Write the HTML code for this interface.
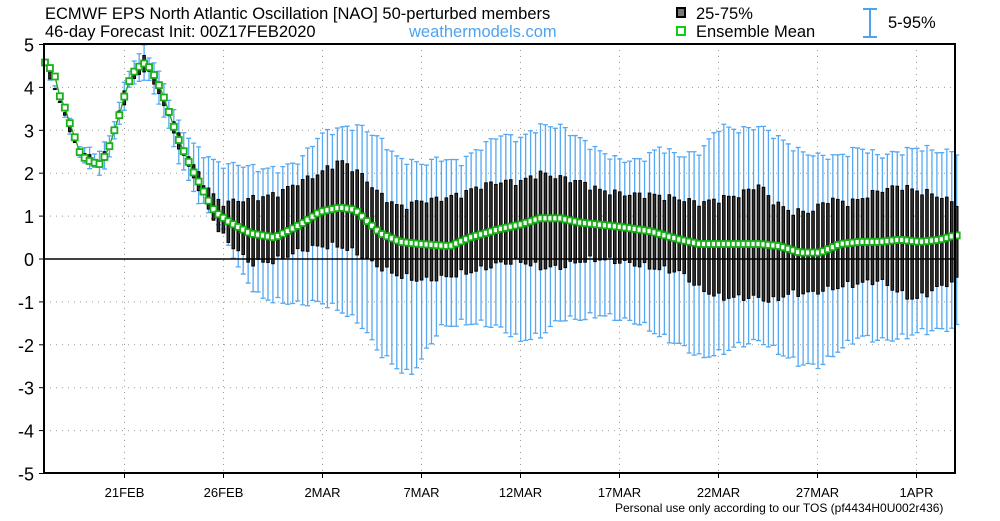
<!DOCTYPE html>
<html><head><meta charset="utf-8"><style>
body{margin:0;background:#fff;width:1000px;height:516px;overflow:hidden;font-family:"Liberation Sans",sans-serif}
</style></head><body>
<svg id="s" width="1000" height="516" xmlns="http://www.w3.org/2000/svg" font-family="Liberation Sans, sans-serif">
<text x="45" y="19" font-size="16.5">ECMWF EPS North Atlantic Oscillation [NAO]  50-perturbed members</text>
<text x="45" y="37" font-size="16.5">46-day Forecast Init: 00Z17FEB2020</text>
<text x="409" y="37" font-size="16.5" fill="#4ea3f0">weathermodels.com</text>
<rect x="677" y="8" width="8" height="9" fill="#777" stroke="#000" stroke-width="2"/>
<text x="696" y="19" font-size="16.5">25-75%</text>
<rect x="677" y="27" width="8" height="8" fill="#fff" stroke="#1c1" stroke-width="2"/>
<text x="696" y="37" font-size="16.5">Ensemble Mean</text>
<path d="M863 9H877M870 9V37M863 37H877" stroke="#4ea3f0" stroke-width="2" fill="none"/>
<text x="888" y="28" font-size="16.5">5-95%</text>
<text x="615" y="512" font-size="12">Personal use only according to our TOS (pf4434H0U002r436)</text>
<g id="g"></g>
</svg>
<script>
const g=document.getElementById('g');let h='';
const Y=v=>259-42.9*v;
const L=44,R=955,T=44,B=473;
for(let v=-4;v<=4;v++){if(v)h+=`<line x1="${L}" x2="${R}" y1="${Y(v)}" y2="${Y(v)}" stroke="#999" stroke-dasharray="1,5"/>`;}
const xl=['21FEB','26FEB','2MAR','7MAR','12MAR','17MAR','22MAR','27MAR','1APR'];
xl.forEach((t,i)=>{const x=124.5+i*99;h+=`<line x1="${x}" x2="${x}" y1="${T}" y2="${B}" stroke="#999" stroke-dasharray="1,5"/><text x="${x}" y="497" font-size="13" text-anchor="middle">${t}</text><line x1="${x}" x2="${x}" y1="${B}" y2="${B+5}" stroke="#000"/>`;});
for(let v=-5;v<=5;v++){h+=`<text x="34" y="${Y(v)+7}" font-size="18" text-anchor="end">${v}</text><line x1="${L-5}" x2="${L}" y1="${Y(v)}" y2="${Y(v)}" stroke="#000"/>`;}
function P(s){const a=s.trim().split(/\s+/).map(p=>p.split(':').map(Number));return x=>{if(x<=a[0][0])return a[0][1];for(let i=1;i<a.length;i++)if(x<=a[i][0]){const[x0,y0]=a[i-1],[x1,y1]=a[i];return y0+(y1-y0)*(x-x0)/(x1-x0);}return a[a.length-1][1];};}
const M=P("45:4.58 50:4.45 55:4.25 60:3.78 65:3.52 70:3.15 75:2.82 80:2.47 85:2.35 90:2.28 95:2.24 100:2.21 105:2.4 110:2.66 115:3.05 120:3.4 125:3.85 130:4.2 135:4.4 140:4.5 145:4.57 150:4.45 155:4.25 160:4.0 165:3.7 170:3.35 175:3.0 180:2.7 185:2.45 190:2.2 195:1.95 200:1.75 205:1.5 210:1.3 215:1.1 230:0.85 250:0.6 275:0.5 300:0.8 320:1.1 340:1.2 355:1.15 380:0.6 400:0.4 420:0.35 450:0.3 470:0.5 500:0.7 520:0.8 540:0.95 560:0.95 580:0.85 600:0.8 620:0.75 650:0.65 680:0.45 700:0.35 730:0.35 760:0.35 780:0.3 800:0.15 820:0.15 840:0.35 860:0.4 880:0.4 900:0.45 920:0.4 940:0.45 955:0.55");
const B75=P("45:4.6 80:2.5 100:2.25 110:2.7 130:4.3 145:4.7 160:4.05 180:2.8 200:1.9 220:1.3 250:1.4 275:1.5 300:1.8 320:2.0 340:2.3 360:2.0 380:1.5 400:1.2 420:1.35 440:1.4 460:1.5 480:1.7 500:1.8 520:1.8 540:2.0 560:1.9 580:1.8 600:1.6 630:1.5 650:1.5 680:1.4 700:1.3 720:1.4 740:1.5 760:1.75 770:1.4 790:1.1 810:1.1 830:1.4 850:1.3 880:1.6 900:1.7 915:1.6 935:1.5 955:1.3");
const B25=P("45:4.57 80:2.42 100:2.15 110:2.6 130:4.1 145:4.45 160:3.85 180:2.55 200:1.6 220:0.6 250:-0.1 275:-0.05 300:0.2 320:0.3 340:0.3 360:0.1 380:-0.2 400:-0.4 420:-0.5 440:-0.45 460:-0.35 480:-0.25 500:-0.1 520:-0.05 540:-0.2 560:-0.2 580:-0.05 600:0 630:-0.1 650:-0.2 680:-0.3 700:-0.7 720:-0.9 740:-0.9 760:-0.9 770:-1.0 790:-0.8 810:-0.8 830:-0.7 850:-0.6 880:-0.5 900:-0.8 915:-0.95 935:-0.7 955:-0.5");
const W95=P("45:4.65 80:2.6 100:2.5 110:2.9 130:4.5 145:4.95 160:4.3 180:3.1 200:2.5 220:2.2 240:2.2 260:2.1 280:2.1 300:2.3 320:2.9 340:3.05 360:3.1 380:2.8 400:2.3 410:2.3 420:2.2 440:2.35 460:2.25 480:2.6 500:2.9 520:2.8 540:3.1 560:3.1 580:2.8 600:2.5 620:2.3 640:2.3 660:2.6 680:2.4 700:2.5 720:3.1 740:3.0 760:3.1 780:2.8 800:2.5 820:2.4 840:2.4 860:2.6 880:2.4 900:2.5 920:2.6 940:2.5 955:2.5");
const W05=P("45:4.55 80:2.35 100:1.95 110:2.4 130:4.0 145:4.25 160:3.6 180:2.2 200:1.3 220:0.8 240:-0.3 260:-0.9 280:-1.0 300:-1.05 320:-1.0 340:-1.2 360:-1.5 380:-2.2 400:-2.6 410:-2.7 420:-2.4 440:-1.6 460:-1.5 480:-1.5 500:-1.6 520:-1.9 540:-1.8 560:-1.4 580:-1.4 600:-1.3 620:-1.4 640:-1.5 660:-1.8 680:-2.0 700:-2.3 720:-2.2 740:-2.0 760:-1.9 780:-2.2 800:-2.45 820:-2.5 840:-2.1 860:-1.8 880:-1.9 900:-1.85 920:-1.7 940:-1.65 955:-1.6");
const xs=[];for(let i=0;i<=184;i++)xs.push(45+i*4.955);
let wk='',bx='',ln='',mk='';
xs.forEach((x,i)=>{const j=(Math.sin(i*1.7)+0.6*Math.sin(i*2.9))*0.06;
const hi=Y(W95(x)+j),lo=Y(W05(x)-j);
wk+=`M${x} ${hi}V${lo}M${x-2.5} ${hi}h5M${x-2.5} ${lo}h5`;
const t=Y(B75(x)+j),b=Y(B25(x)-j);
bx+=`<rect x="${x-1.3}" y="${t}" width="2.6" height="${Math.max(b-t,1)}"/>`;
const m=Y(M(x));ln+=(i?'L':'M')+x+' '+m;
mk+=`<rect x="${x-3}" y="${m-3}" width="6" height="6"/>`;});
h+=`<path d="${wk}" stroke="#55a8f2" stroke-width="1.3" fill="none"/>`;
h+=`<g fill="#333" stroke="#000" stroke-width="1">${bx}</g>`;
h+=`<line x1="${L}" x2="${R}" y1="${Y(0)}" y2="${Y(0)}" stroke="#000" stroke-width="1.5"/>`;
h+=`<path d="${ln}" stroke="#1a1" stroke-width="1.3" fill="none"/>`;
h+=`<g fill="#fff" stroke="#1ab01a" stroke-width="1.8">${mk}</g>`;
h+=`<rect x="${L}" y="${T}" width="${R-L}" height="${B-T}" fill="none" stroke="#000" stroke-width="2"/>`;
g.innerHTML=h;
</script>
</body></html>
